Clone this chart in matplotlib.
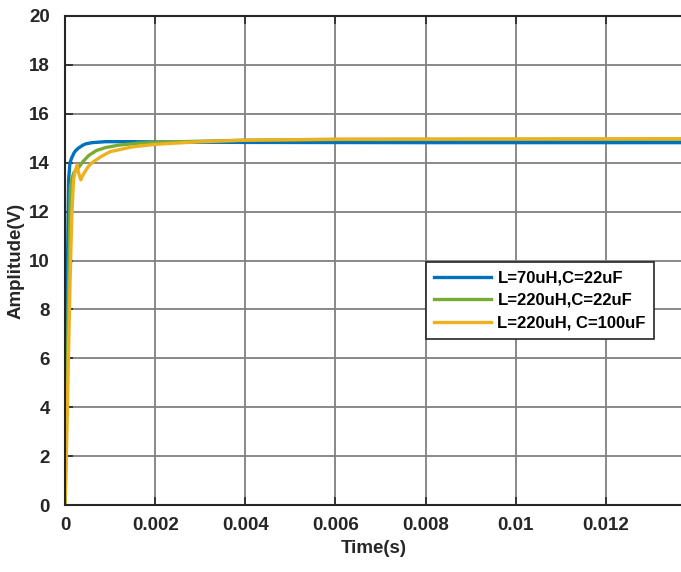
import matplotlib
matplotlib.use("Agg")
import matplotlib.pyplot as plt
import numpy as np

# Data
t_blue = [0, 0.00002, 0.00005, 0.00008, 0.00011, 0.00015, 0.0002, 0.00024, 0.0003, 0.0004, 0.00046, 0.0006, 0.0009, 0.0015, 0.002, 0.004, 0.008, 0.0137]
v_blue = [0, 3.5, 9.0, 13.3, 14.0, 14.2, 14.4, 14.5, 14.6, 14.72, 14.77, 14.82, 14.86, 14.86, 14.85, 14.83, 14.82, 14.82]

t_green = [0, 0.00004, 0.00008, 0.00012, 0.00016, 0.0002, 0.0003, 0.0004, 0.00053, 0.0007, 0.0009, 0.0012, 0.00163, 0.002, 0.003, 0.004, 0.006, 0.0137]
v_green = [0, 4.0, 9.0, 13.0, 13.4, 13.6, 13.8, 14.05, 14.3, 14.5, 14.62, 14.72, 14.8, 14.83, 14.88, 14.92, 14.95, 14.96]

t_yellow = [0, 0.00003, 0.00007, 0.00011, 0.00015, 0.00019, 0.00023, 0.00027, 0.0003, 0.00035, 0.0004, 0.0005, 0.0006, 0.0008, 0.001, 0.0015, 0.002, 0.003, 0.004, 0.006, 0.0137]
v_yellow = [0, 2.0, 5.5, 9.0, 11.8, 13.3, 13.7, 13.9, 13.6, 13.3, 13.5, 13.8, 14.0, 14.25, 14.45, 14.65, 14.75, 14.86, 14.92, 14.96, 14.98]

labels = ["L=70uH,C=22uF", "L=220uH,C=22uF", "L=220uH, C=100uF"]
colors = ["#0072BD", "#77AC30", "#EDB120"]

xticks = [0, 0.002, 0.004, 0.006, 0.008, 0.01, 0.012]
xticklabels = ["0", "0.002", "0.004", "0.006", "0.008", "0.01", "0.012"]
yticks = list(range(0, 21, 2))

plt.rcParams['font.family'] = ['Liberation Sans', 'DejaVu Sans']
plt.rcParams['font.weight'] = 'bold'

fig = plt.figure(figsize=(6.81, 5.72), dpi=100)
ax = fig.add_axes([65/681, 1-505/572, 1-65/681 + 0.002, (505-16)/572])

for t, v, c, lab in zip([t_blue, t_green, t_yellow], [v_blue, v_green, v_yellow], colors, labels):
    ax.plot(t, v, color=c, lw=2.4, label=lab, solid_joinstyle='round')

ax.set_xlim(0, 0.0137)
ax.set_ylim(0, 20)
ax.set_xticks(xticks)
ax.set_xticklabels(xticklabels)
ax.set_yticks(yticks)
ax.grid(True, color='#808080', lw=1.3)
ax.set_axisbelow(True)
ax.tick_params(direction='in', length=6, width=1.2, labelsize=13.5, top=True, right=False, colors='#262626')
ax.tick_params(axis='x', pad=9)
ax.tick_params(axis='y', pad=11)
for lab in ax.get_xticklabels() + ax.get_yticklabels():
    lab.set_fontweight('bold')
for s in ax.spines.values():
    s.set_color('#262626')
    s.set_linewidth(1.5)
ax.spines['right'].set_visible(False)

ax.set_xlabel("Time(s)", fontsize=13.5, fontweight='bold', color='#262626', labelpad=4)
ax.set_ylabel("Amplitude(V)", fontsize=13.5, fontweight='bold', color='#262626', labelpad=3)

leg = ax.legend(loc='upper left', bbox_to_anchor=((425-65)/616, (505-262)/489),
                prop={'size': 12, 'weight': 'bold'}, fancybox=False, framealpha=1,
                edgecolor='#262626', handlelength=3.4, borderpad=0.5, labelspacing=0.45,
                handletextpad=0.4, borderaxespad=0)
leg.get_frame().set_linewidth(1.2)

fig.savefig("out.png", dpi=100)
